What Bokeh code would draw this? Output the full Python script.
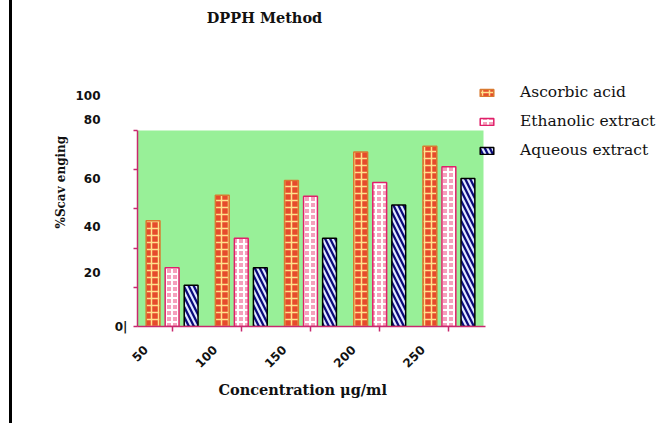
import math
from bokeh.plotting import figure
from bokeh.models import (Range1d, LinearAxis, FixedTicker, CustomJSTickFormatter, Title, Label,
                          BoxAnnotation, Legend, LegendItem, ColumnDataSource)
from bokeh.transform import dodge
from bokeh.embed import file_html
from bokeh.resources import INLINE

# ---- data ----
concentrations = ["50", "100", "150", "200", "250"]
ascorbic = [54, 67, 74.5, 89, 92]
ethanolic = [30, 45, 66.5, 73.5, 81.5]
aqueous = [21, 30, 45, 62, 75.5]
series_names = ["Ascorbic acid", "Ethanolic extract", "Aqueous extract"]
y_ticks = [0, 20, 40, 60, 80, 100]
y_tick_labels = ["0|", "20", "40", "60", "80", "100"]

# ---- styles / positions ----
MAG = "#C8286E"
GREEN = "#98F098"
n = len(concentrations)
centers = [i + 0.5 for i in range(n)]
label_x = [i + 0.12 for i in range(n)]          # printed labels sit left of the groups
label_pos = [27.6, 51.0, 75.5, 105.6, 117.9]   # where the (shifted) printed y labels sit

src = ColumnDataSource(dict(xc=centers, conc=concentrations, asc=ascorbic, eth=ethanolic, aq=aqueous))

p = figure(width=670, height=423, x_range=Range1d(0, 7.63), y_range=Range1d(0, 166.3),
           title=None, output_backend="svg", toolbar_location=None,
           min_border_left=137, min_border_right=5, min_border_top=0, min_border_bottom=97)
p.grid.visible = False
p.outline_line_color = None
p.background_fill_color = "white"
p.border_fill_alpha = 0
p.styles = {"background": "linear-gradient(to right, white 9px, black 9px, black 12px, white 12px)"}

p.add_layout(BoxAnnotation(bottom=0, top=100, right=n, fill_color=GREEN, fill_alpha=1,
                           line_color=None, level="underlay"))

specs = [
    ("asc", -0.275, dict(fill_color="#E64B2C", line_color="#D97A30", hatch_pattern="cross",
                          hatch_color="#FFE28C", hatch_scale=7, hatch_weight=1.5)),
    ("eth", 0.0, dict(fill_color="#F5A0BC", line_color="#E0206A", hatch_pattern="cross",
                       hatch_color="white", hatch_scale=6, hatch_weight=2)),
    ("aq", 0.275, dict(fill_color="#0A0A7C", line_color="black", hatch_pattern="left_diagonal_line",
                        hatch_color="#E0E8FF", hatch_scale=10, hatch_weight=2.2)),
]
renderers = []
for col, off, st in specs:
    r = p.vbar(x=dodge("xc", off), top=col, width=0.2, source=src, line_width=1.5, **st)
    renderers.append(r)

# x axis: magenta line + tick marks at group centres
xa = p.xaxis[0]
xa.ticker = FixedTicker(ticks=centers)
xa.bounds = (0, n + 0.03)
xa.axis_line_color = MAG
xa.axis_line_width = 1.5
xa.major_tick_line_color = MAG
xa.major_tick_line_width = 1.5
xa.minor_tick_line_color = None
xa.major_tick_out = 5
xa.major_tick_in = 0
xa.formatter = CustomJSTickFormatter(code="return ''")
xa.major_label_text_font_size = "0px"
xa.major_label_standoff = 0

# x labels axis
xl = LinearAxis(ticker=FixedTicker(ticks=label_x),
                formatter=CustomJSTickFormatter(args=dict(labels=concentrations),
                                                code="return labels[Math.floor(tick)] || ''"),
                major_label_orientation=math.pi / 4, bounds=(0.05, 4.72))
xl.axis_line_color = None
xl.major_tick_line_color = None
xl.minor_tick_line_color = None
xl.major_tick_out = 0
xl.major_tick_in = 0
xl.major_label_standoff = 16
xl.major_label_text_font = "DejaVu Sans"
xl.major_label_text_font_style = "bold"
xl.major_label_text_font_size = "12px"
xl.major_label_text_color = "#111111"
p.add_layout(xl, "below")

p.add_layout(Title(text="Concentration \u03bcg/ml", align="left", offset=81, standoff=8,
                   text_font="DejaVu Serif", text_font_style="bold", text_font_size="14.5px",
                   text_color="#111111"), "below")

# y axis: magenta line + ticks 0..100
ya = p.yaxis[0]
ya.ticker = FixedTicker(ticks=y_ticks)
ya.bounds = (0, 100)
ya.formatter = CustomJSTickFormatter(args=dict(lab=y_tick_labels[0]),
                                     code="return tick == 0 ? lab : ''")
ya.axis_line_color = MAG
ya.axis_line_width = 1.5
ya.major_tick_line_color = MAG
ya.major_tick_line_width = 1.5
ya.major_tick_out = 4
ya.major_tick_in = 0
ya.minor_tick_line_color = None
ya.major_label_standoff = 6
ya.major_label_text_font = "DejaVu Sans"
ya.major_label_text_font_style = "bold"
ya.major_label_text_font_size = "12px"
ya.major_label_text_color = "#111111"

# y printed labels axis
yl = LinearAxis(ticker=FixedTicker(ticks=label_pos), bounds=(27, 119),
                formatter=CustomJSTickFormatter(args=dict(pos=label_pos, labels=y_tick_labels[1:]),
                                                code="const i = pos.indexOf(tick); return i >= 0 ? labels[i] : ''"))
yl.axis_line_color = None
yl.major_tick_line_color = None
yl.minor_tick_line_color = None
yl.major_tick_out = 0
yl.major_tick_in = 0
yl.major_label_standoff = 11
yl.major_label_text_font = "DejaVu Sans"
yl.major_label_text_font_style = "bold"
yl.major_label_text_font_size = "12px"
yl.major_label_text_color = "#111111"
p.add_layout(yl, "left")

p.add_layout(Title(text="%Scav enging", align="left", offset=98, standoff=10,
                   text_font="DejaVu Serif", text_font_style="bold", text_font_size="12px",
                   text_color="#111111"), "left")

# chart title
p.add_layout(Label(x=1.835, y=157.7, text="DPPH Method", text_align="center", text_baseline="middle",
                   text_font="DejaVu Serif", text_font_style="bold", text_font_size="14.5px",
                   text_color="#111111"))

legend = Legend(items=[LegendItem(label=s, renderers=[r]) for s, r in zip(series_names, renderers)],
                location=(341, 166), border_line_color=None, background_fill_alpha=0,
                padding=0, margin=0, spacing=9, glyph_width=17, glyph_height=9,
                label_standoff=25, label_height=20, label_text_font="DejaVu Serif",
                label_text_font_size="15.5px", label_text_color="#111111")
p.add_layout(legend)

open("out.html", "w").write(file_html(p, INLINE))
